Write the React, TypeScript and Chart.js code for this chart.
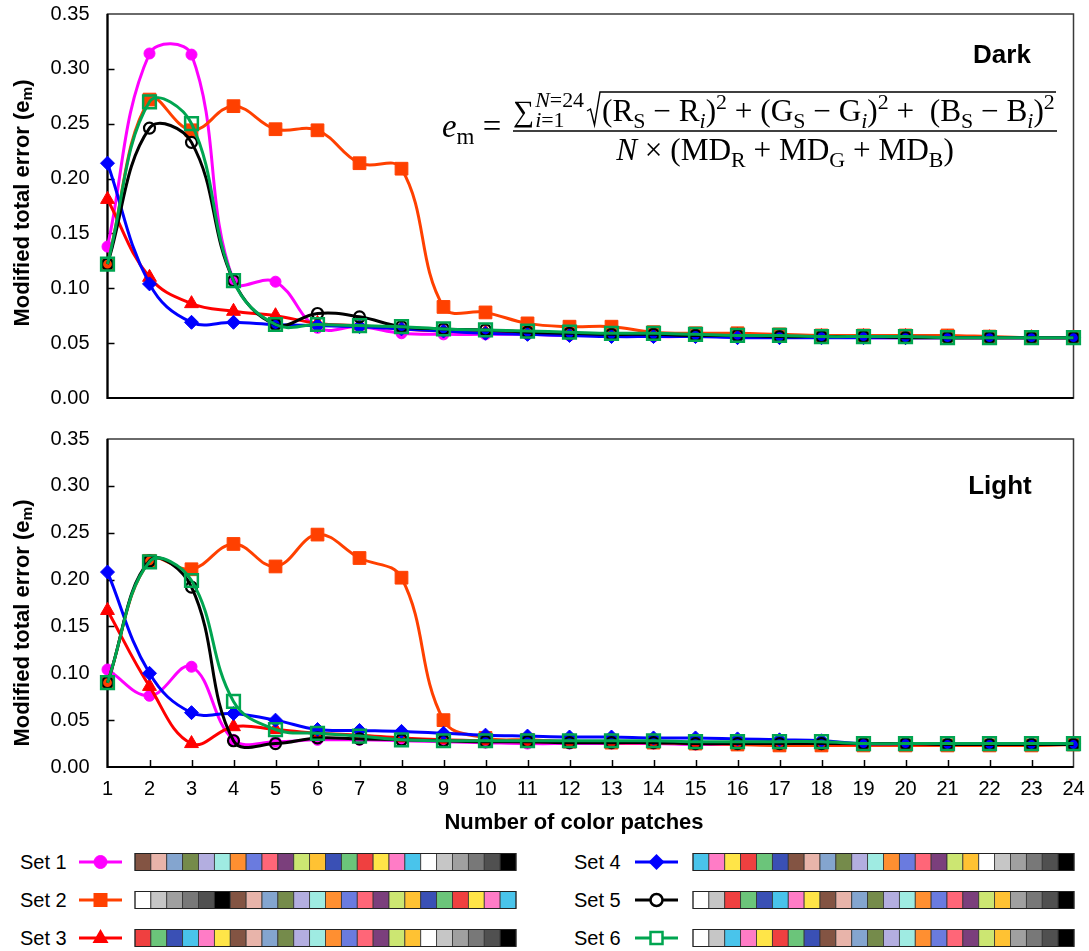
import { useEffect, useRef } from "react";
import { Chart, registerables } from "chart.js";

Chart.register(...registerables);

// ---------- data ----------
const PATCH_COUNTS = ["1","2","3","4","5","6","7","8","9","10","11","12","13","14","15","16","17","18","19","20","21","22","23","24"];
const SERIES_NAMES = ["Set 1", "Set 2", "Set 3", "Set 4", "Set 5", "Set 6"];

// Dark background
const DARK_SET1 = [0.138, 0.314, 0.313, 0.107, 0.106, 0.064, 0.065, 0.059, 0.058, 0.058, 0.058, 0.057, 0.057, 0.056, 0.056, 0.056, 0.056, 0.056, 0.055, 0.055, 0.055, 0.055, 0.055, 0.055];
const DARK_SET2 = [0.122, 0.272, 0.244, 0.266, 0.245, 0.244, 0.214, 0.209, 0.083, 0.078, 0.068, 0.065, 0.065, 0.060, 0.059, 0.059, 0.058, 0.057, 0.057, 0.057, 0.057, 0.056, 0.055, 0.055];
const DARK_SET3 = [0.181, 0.110, 0.086, 0.079, 0.075, 0.068, 0.066, 0.063, 0.061, 0.060, 0.059, 0.058, 0.058, 0.057, 0.057, 0.057, 0.056, 0.056, 0.056, 0.056, 0.055, 0.055, 0.055, 0.055];
const DARK_SET4 = [0.214, 0.104, 0.069, 0.069, 0.067, 0.066, 0.065, 0.063, 0.061, 0.059, 0.058, 0.057, 0.056, 0.056, 0.056, 0.055, 0.055, 0.055, 0.055, 0.055, 0.055, 0.055, 0.055, 0.055];
const DARK_SET5 = [0.122, 0.246, 0.233, 0.107, 0.067, 0.077, 0.074, 0.065, 0.063, 0.062, 0.060, 0.059, 0.058, 0.058, 0.057, 0.057, 0.056, 0.056, 0.056, 0.055, 0.055, 0.055, 0.055, 0.055];
const DARK_SET6 = [0.122, 0.270, 0.250, 0.107, 0.067, 0.067, 0.066, 0.065, 0.063, 0.062, 0.061, 0.060, 0.059, 0.059, 0.058, 0.057, 0.057, 0.056, 0.056, 0.056, 0.055, 0.055, 0.055, 0.055];

// Light background
const LIGHT_SET1 = [0.104, 0.076, 0.107, 0.029, 0.027, 0.029, 0.029, 0.028, 0.027, 0.026, 0.025, 0.025, 0.025, 0.025, 0.024, 0.024, 0.024, 0.025, 0.024, 0.024, 0.024, 0.024, 0.024, 0.024];
const LIGHT_SET2 = [0.090, 0.220, 0.211, 0.238, 0.214, 0.248, 0.223, 0.202, 0.050, 0.031, 0.029, 0.027, 0.026, 0.026, 0.025, 0.024, 0.023, 0.023, 0.023, 0.023, 0.023, 0.023, 0.023, 0.024];
const LIGHT_SET3 = [0.167, 0.086, 0.025, 0.043, 0.040, 0.036, 0.034, 0.031, 0.029, 0.028, 0.027, 0.027, 0.026, 0.026, 0.026, 0.025, 0.025, 0.025, 0.024, 0.024, 0.024, 0.024, 0.024, 0.024];
const LIGHT_SET4 = [0.208, 0.100, 0.058, 0.057, 0.050, 0.040, 0.039, 0.038, 0.036, 0.034, 0.033, 0.032, 0.032, 0.031, 0.031, 0.030, 0.029, 0.028, 0.025, 0.025, 0.025, 0.025, 0.025, 0.025];
const LIGHT_SET5 = [0.090, 0.220, 0.192, 0.028, 0.025, 0.031, 0.030, 0.029, 0.028, 0.027, 0.027, 0.026, 0.026, 0.026, 0.025, 0.025, 0.025, 0.025, 0.025, 0.025, 0.024, 0.024, 0.024, 0.024];
const LIGHT_SET6 = [0.090, 0.219, 0.199, 0.070, 0.040, 0.036, 0.033, 0.029, 0.028, 0.028, 0.028, 0.028, 0.028, 0.028, 0.027, 0.027, 0.027, 0.027, 0.025, 0.025, 0.025, 0.025, 0.025, 0.025];

const DARK_DATA = [DARK_SET1, DARK_SET2, DARK_SET3, DARK_SET4, DARK_SET5, DARK_SET6];
const LIGHT_DATA = [LIGHT_SET1, LIGHT_SET2, LIGHT_SET3, LIGHT_SET4, LIGHT_SET5, LIGHT_SET6];

const Y_MIN = 0;
const Y_MAX = 0.35;
const Y_STEP = 0.05;

// colour patches
const PATCH: Record<string, string> = {
  brown: "#835443", lpink: "#E8B4AA", bluegray: "#84A5CF", olive: "#758B4B",
  lavender: "#B3AEE0", aqua: "#9FEBE2", orange: "#FF8F31", blue: "#6A7BDF",
  pinkred: "#FF6678", purple: "#7B3F7C", ygreen: "#CCE672", gold: "#FFC233",
  dblue: "#3A50B5", green: "#6BC57A", red: "#EF4040", yellow: "#FFE548",
  pink: "#FF7CC6", cyan: "#49C4EB", white: "#FFFFFF", lgray: "#C6C6C6",
  gray: "#A0A0A0", gray2: "#787878", dgray: "#505050", black: "#000000",
};
const SET1_PATCHES = ["brown","lpink","bluegray","olive","lavender","aqua","orange","blue","pinkred","purple","ygreen","gold","dblue","green","red","yellow","pink","cyan","white","lgray","gray","gray2","dgray","black"];
const SET2_PATCHES = ["white","lgray","gray","gray2","dgray","black","brown","lpink","bluegray","olive","lavender","aqua","orange","blue","pinkred","purple","ygreen","gold","dblue","green","red","yellow","pink","cyan"];
const SET3_PATCHES = ["red","green","dblue","cyan","pink","yellow","brown","lpink","bluegray","olive","lavender","aqua","orange","blue","pinkred","purple","ygreen","gold","white","lgray","gray","gray2","dgray","black"];
const SET4_PATCHES = ["cyan","pink","yellow","red","green","dblue","brown","lpink","bluegray","olive","lavender","aqua","orange","blue","pinkred","purple","ygreen","gold","white","lgray","gray","gray2","dgray","black"];
const SET5_PATCHES = ["white","lgray","red","green","dblue","cyan","pink","yellow","brown","lpink","bluegray","olive","lavender","aqua","orange","blue","pinkred","purple","ygreen","gold","gray","gray2","dgray","black"];
const SET6_PATCHES = ["white","lgray","cyan","pink","yellow","red","green","dblue","brown","lpink","bluegray","olive","lavender","aqua","orange","blue","pinkred","purple","ygreen","gold","gray","gray2","dgray","black"];
const ALL_PATCHES = [SET1_PATCHES, SET2_PATCHES, SET3_PATCHES, SET4_PATCHES, SET5_PATCHES, SET6_PATCHES];

// ---------- styles ----------
const STYLES = [
  { color: "#FF00FF", fill: "#FF00FF", point: "circle", radius: 5.5, pbw: 1 },
  { color: "#FF4000", fill: "#FF4000", point: "rect", radius: 9, pbw: 1 },
  { color: "#FF0000", fill: "#FF0000", point: "triangle", radius: 8, pbw: 1 },
  { color: "#0000FF", fill: "#0000FF", point: "rectRot", radius: 7, pbw: 1 },
  { color: "#000000", fill: "rgba(0,0,0,0)", point: "circle", radius: 5.5, pbw: 2.2 },
  { color: "#00A550", fill: "rgba(0,0,0,0)", point: "rect", radius: 9, pbw: 2.5 },
];

const SANS = '"Liberation Sans", Arial, sans-serif';
const SERIF = '"Liberation Serif", "DejaVu Serif", serif';
const W = 1089;
const CH = 420;
const PLOT_LEFT = 107.5;
const PLOT_RIGHT = 1073.5;

type Seg = [string, number, number, boolean];

function drawRich(ctx: CanvasRenderingContext2D, segs: Seg[], x: number, y: number, base: number, family: string, bold = false) {
  for (const [t, s, dy, it] of segs) {
    ctx.font = `${it ? "italic " : ""}${bold ? "bold " : ""}${base * s}px ${family}`;
    ctx.fillText(t, x, y + dy * base);
    x += ctx.measureText(t).width;
  }
  return x;
}
function measureRich(ctx: CanvasRenderingContext2D, segs: Seg[], base: number, family: string, bold = false) {
  let w = 0;
  for (const [t, s, , it] of segs) {
    ctx.font = `${it ? "italic " : ""}${bold ? "bold " : ""}${base * s}px ${family}`;
    w += ctx.measureText(t).width;
  }
  return w;
}

function drawFormula(ctx: CanvasRenderingContext2D) {
  const SUB = 0.7;
  const r = (t: string): Seg => [t, 1, 0, false];
  const ri = (t: string): Seg => [t, 1, 0, true];
  const sub = (t: string, it = false): Seg => [t, SUB, 0.22, it];
  const sup = (t: string): Seg => [t, SUB, -0.38, false];
  const radicand: Seg[] = [
    r("(R"), sub("S"), r(" \u2212 R"), sub("i", true), r(")"), sup("2"),
    r(" + (G"), sub("S"), r(" \u2212 G"), sub("i", true), r(")"), sup("2"),
    r(" +  (B"), sub("S"), r(" \u2212 B"), sub("i", true), r(")"), sup("2"),
  ];
  const radX = 602;
  const radEnd = 1055;
  const base = (24 * (radEnd - radX)) / measureRich(ctx, radicand, 24, SERIF);
  const yN = 121;
  const yBar = 131;
  const yD = 160;
  ctx.fillStyle = "#000";
  ctx.strokeStyle = "#000";
  ctx.textBaseline = "alphabetic";
  ctx.textAlign = "left";

  // e_m =
  drawRich(ctx, [ri("e"), sub("m"), r(" =")], 442, 137, base * 1.05, SERIF);

  // sum with limits
  ctx.font = `${base * 0.95}px ${SERIF}`;
  ctx.fillText("\u2211", 513, yN);
  const sumW = ctx.measureText("\u2211").width;
  const limX = Math.max(531, 513 + sumW + 1);
  drawRich(ctx, [["N", SUB, 0, true], ["=24", SUB, 0, false]], limX, yN - base * 0.45, base, SERIF);
  drawRich(ctx, [["i", SUB, 0, true], ["=1", SUB, 0, false]], limX, yN + base * 0.2, base, SERIF);

  // radical
  ctx.lineWidth = 1.4;
  ctx.beginPath();
  ctx.moveTo(587, 111);
  ctx.lineTo(590.5, 109);
  ctx.lineTo(594.5, 125);
  ctx.lineTo(600, 92);
  ctx.lineTo(radEnd + 1, 92);
  ctx.stroke();
  drawRich(ctx, radicand, radX, yN, base, SERIF);

  // fraction bar
  ctx.lineWidth = 1.5;
  ctx.beginPath();
  ctx.moveTo(513, yBar);
  ctx.lineTo(1057, yBar);
  ctx.stroke();

  // denominator
  const den: Seg[] = [ri("N"), r(" \u00D7 (MD"), sub("R"), r(" + MD"), sub("G"), r(" + MD"), sub("B"), r(")")];
  const dw = measureRich(ctx, den, base, SERIF);
  drawRich(ctx, den, 785 - dw / 2, yD, base, SERIF);
}

function makeDecor(opts: { label: string; labelX: number; labelY: number; showXTicks: boolean; formula: boolean; xTitle: boolean }) {
  return {
    id: "decor",
    beforeDatasetsDraw(chart: any) {
      const { ctx, chartArea: a, scales } = chart;
      ctx.save();
      ctx.strokeStyle = "#000";
      ctx.lineWidth = 1.5;
      ctx.beginPath();
      for (const t of scales.y.ticks) {
        if (t.value <= Y_MIN + 1e-9 || t.value >= Y_MAX - 1e-9) continue;
        const y = Math.round(scales.y.getPixelForValue(t.value)) + 0.5;
        ctx.moveTo(a.left, y);
        ctx.lineTo(a.left + 7, y);
      }
      if (opts.showXTicks) {
        for (let i = 1; i < PATCH_COUNTS.length - 1; i++) {
          const x = Math.round(scales.x.getPixelForValue(i)) + 0.5;
          ctx.moveTo(x, a.bottom);
          ctx.lineTo(x, a.bottom - 7);
        }
      }
      ctx.stroke();
      ctx.strokeStyle = "#3a3a3a";
      ctx.lineWidth = 1.5;
      ctx.strokeRect(a.left, a.top, a.right - a.left, a.bottom - a.top);
      ctx.strokeStyle = "#000";
      ctx.lineWidth = 2.2;
      ctx.beginPath();
      ctx.moveTo(a.left, a.top);
      ctx.lineTo(a.left, a.bottom);
      ctx.lineTo(a.right, a.bottom);
      ctx.stroke();
      ctx.restore();
    },
    afterDraw(chart: any) {
      const { ctx } = chart;
      ctx.save();
      ctx.fillStyle = "#000";
      // y title
      const ySegs: Seg[] = [["Modified total error (e", 1, 0, false], ["m", 0.7, 0.2, false], [")", 1, 0, false]];
      const fs = 22;
      const tw = measureRich(ctx, ySegs, fs, SANS, true);
      ctx.translate(23, 203);
      ctx.rotate(-Math.PI / 2);
      ctx.textBaseline = "middle";
      ctx.textAlign = "left";
      drawRich(ctx, ySegs, -tw / 2, 0, fs, SANS, true);
      ctx.setTransform(1, 0, 0, 1, 0, 0);
      // panel label
      ctx.font = `bold 26px ${SANS}`;
      ctx.textAlign = "center";
      ctx.textBaseline = "middle";
      ctx.fillText(opts.label, opts.labelX, opts.labelY);
      if (opts.xTitle) {
        ctx.font = `bold 22px ${SANS}`;
        ctx.fillText("Number of color patches", 574, 403);
      }
      if (opts.formula) drawFormula(ctx);
      ctx.restore();
    },
  };
}

function makeConfig(data: number[][], opts: { padTop: number; padBottom: number; showX: boolean; decor: any }): any {
  return {
    type: "line",
    data: {
      labels: PATCH_COUNTS,
      datasets: SERIES_NAMES.map((name, i) => ({
        label: name,
        data: data[i],
        borderColor: STYLES[i].color,
        backgroundColor: STYLES[i].fill,
        pointStyle: STYLES[i].point,
        pointRadius: STYLES[i].radius,
        pointBorderWidth: STYLES[i].pbw,
        pointBackgroundColor: STYLES[i].fill,
        pointBorderColor: STYLES[i].color,
        borderWidth: 3,
        tension: 0.4,
        fill: false,
        clip: false,
        order: SERIES_NAMES.length - 1 - i,
      })),
    },
    options: {
      responsive: false,
      animation: false,
      devicePixelRatio: 1,
      layout: { padding: { left: 0, right: W - PLOT_RIGHT, top: opts.padTop, bottom: opts.padBottom } },
      plugins: { legend: { display: false }, tooltip: { enabled: false }, title: { display: false } },
      scales: {
        x: {
          type: "category",
          offset: false,
          grid: { display: false, drawTicks: true, tickLength: 10 },
          border: { display: false },
          ticks: {
            display: opts.showX,
            autoSkip: false,
            maxRotation: 0,
            padding: 0,
            color: "#000",
            font: { family: SANS, size: 20 },
          },
          afterFit: (s: any) => { s.height = opts.showX ? 40 : 0; },
        },
        y: {
          min: Y_MIN,
          max: Y_MAX,
          grid: { display: false, drawTicks: true, tickLength: 18 },
          border: { display: false },
          ticks: {
            stepSize: Y_STEP,
            padding: 0,
            color: "#000",
            font: { family: SANS, size: 20 },
            callback: (v: any) => Number(v).toFixed(2),
          },
          afterFit: (s: any) => { s.width = PLOT_LEFT; },
        },
      },
    },
    plugins: [opts.decor],
  };
}

function Legend() {
  const rowsY = [22, 60, 98];
  const cols = [
    { text: 20, line0: 79, line1: 122, patch0: 135 },
    { text: 574, line0: 635, line1: 678, patch0: 693 },
  ];
  const pw = 381 / 24;
  const ph = 17;
  const items: any[] = [];
  SERIES_NAMES.forEach((name, i) => {
    const c = cols[Math.floor(i / 3)];
    const cy = rowsY[i % 3];
    const st = STYLES[i];
    const mx = (c.line0 + c.line1) / 2;
    let marker: any = null;
    if (st.point === "circle") {
      marker = <circle cx={mx} cy={cy} r={i === 0 ? 6.5 : 6} fill={i === 0 ? st.color : "#fff"} stroke={st.color} strokeWidth={i === 0 ? 1 : 2.5} />;
    } else if (st.point === "rect") {
      const s = i === 1 ? 13 : 12;
      marker = <rect x={mx - s / 2} y={cy - s / 2} width={s} height={s} fill={i === 1 ? st.color : "#fff"} stroke={st.color} strokeWidth={i === 1 ? 1 : 2.5} />;
    } else if (st.point === "triangle") {
      marker = <polygon points={`${mx},${cy - 9} ${mx - 8},${cy + 5} ${mx + 8},${cy + 5}`} fill={st.color} />;
    } else {
      marker = <polygon points={`${mx - 8},${cy} ${mx},${cy - 8} ${mx + 8},${cy} ${mx},${cy + 8}`} fill={st.color} />;
    }
    items.push(
      <g key={name}>
        <text x={c.text} y={cy} dominantBaseline="central" fontFamily={SANS} fontSize={20} fill="#000">{name}</text>
        <line x1={c.line0} y1={cy} x2={c.line1} y2={cy} stroke={st.color} strokeWidth={3} />
        {marker}
        {ALL_PATCHES[i].map((p, k) => (
          <rect key={k} x={c.patch0 + k * pw} y={cy - ph / 2} width={pw} height={ph} fill={PATCH[p]} stroke="#333" strokeWidth={0.8} />
        ))}
        <rect x={c.patch0} y={cy - ph / 2} width={pw * 24} height={ph} fill="none" stroke="#222" strokeWidth={1} />
      </g>
    );
  });
  return (
    <svg width={W} height={111} style={{ position: "absolute", left: 0, top: 840 }}>
      {items}
    </svg>
  );
}

export default function App() {
  const topRef = useRef<HTMLCanvasElement>(null);
  const botRef = useRef<HTMLCanvasElement>(null);

  useEffect(() => {
    const top = new Chart(topRef.current as HTMLCanvasElement, makeConfig(DARK_DATA, {
      padTop: 14,
      padBottom: CH - 398,
      showX: false,
      decor: makeDecor({ label: "Dark", labelX: 1002, labelY: 56, showXTicks: false, formula: true, xTitle: false }),
    }));
    const bot = new Chart(botRef.current as HTMLCanvasElement, makeConfig(LIGHT_DATA, {
      padTop: 439 - 420,
      padBottom: CH - (767 - 420) - 40,
      showX: true,
      decor: makeDecor({ label: "Light", labelX: 1000, labelY: 487 - 420, showXTicks: true, formula: false, xTitle: true }),
    }));
    return () => {
      top.destroy();
      bot.destroy();
    };
  }, []);

  return (
    <div style={{ position: "fixed", left: 0, top: 0, width: W, height: 951, background: "#fff", overflow: "hidden" }}>
      <canvas ref={topRef} width={W} height={CH} style={{ position: "absolute", left: 0, top: 0, width: W, height: CH }} />
      <canvas ref={botRef} width={W} height={CH} style={{ position: "absolute", left: 0, top: 420, width: W, height: CH }} />
      <Legend />
    </div>
  );
}
